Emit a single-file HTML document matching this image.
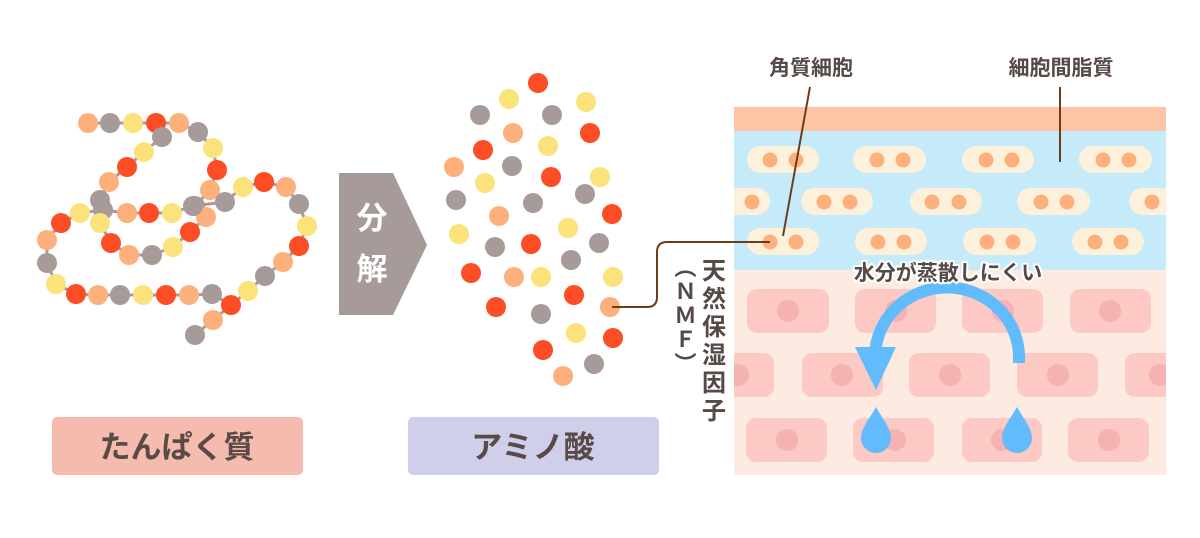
<!DOCTYPE html>
<html><head><meta charset="utf-8"><style>
html,body{margin:0;padding:0;background:#fff;}
svg{display:block;}
text{font-family:"Liberation Sans","Noto Sans CJK JP",sans-serif;}
</style></head><body>
<svg width="1200" height="538" viewBox="0 0 1200 538" xmlns="http://www.w3.org/2000/svg">
<rect width="1200" height="538" fill="#fff"/>
<g stroke="#a69b99" stroke-width="3" fill="none">
<polyline points="88,123 110,123 133,123 156,123 179,123 198,132 213,148 217,170 210,190 195,206 206,217 190,232 173,247 152,255 129,255 111,243 100,223 100,200"/>
<polyline points="156,123 162,137 144,152 127,167 109,182 100,200 103,210 80,213 61,223 47,240 47,263 56,284 76,294 98,295 120,295 143,295 166,295 189,295 212,294 231,305 213,320 195,335"/>
<polyline points="103,210 127,213 149,213 172,213 193,206 225,202 243,187 264,182 286,187 299,204 307,226 299,246 283,262 265,276 248,291 231,305"/>
</g>
<g>
<circle cx="88" cy="123" r="10" fill="#fdb07c"/><circle cx="110" cy="123" r="10" fill="#a69b99"/><circle cx="133" cy="123" r="10" fill="#fbe27a"/><circle cx="156" cy="123" r="10" fill="#fc4d24"/><circle cx="179" cy="123" r="10" fill="#fdb07c"/><circle cx="198" cy="132" r="10" fill="#a69b99"/><circle cx="213" cy="148" r="10" fill="#fbe27a"/><circle cx="217" cy="170" r="10" fill="#fc4d24"/><circle cx="210" cy="190" r="10" fill="#fdb07c"/><circle cx="195" cy="206" r="10" fill="#a69b99"/><circle cx="206" cy="217" r="10" fill="#fdb07c"/><circle cx="190" cy="232" r="10" fill="#fc4d24"/><circle cx="173" cy="247" r="10" fill="#fbe27a"/><circle cx="152" cy="255" r="10" fill="#a69b99"/><circle cx="129" cy="255" r="10" fill="#fdb07c"/><circle cx="111" cy="243" r="10" fill="#fc4d24"/>
<circle cx="162" cy="137" r="10" fill="#a69b99"/><circle cx="144" cy="152" r="10" fill="#fbe27a"/><circle cx="127" cy="167" r="10" fill="#fc4d24"/><circle cx="109" cy="182" r="10" fill="#fdb07c"/><circle cx="100" cy="200" r="10" fill="#a69b99"/><circle cx="103" cy="210" r="10" fill="#a69b99"/><circle cx="100" cy="223" r="10" fill="#fbe27a"/><circle cx="80" cy="213" r="10" fill="#fbe27a"/><circle cx="61" cy="223" r="10" fill="#fc4d24"/><circle cx="47" cy="240" r="10" fill="#fdb07c"/><circle cx="47" cy="263" r="10" fill="#a69b99"/><circle cx="56" cy="284" r="10" fill="#fbe27a"/><circle cx="76" cy="294" r="10" fill="#fc4d24"/><circle cx="98" cy="295" r="10" fill="#fdb07c"/><circle cx="120" cy="295" r="10" fill="#a69b99"/><circle cx="143" cy="295" r="10" fill="#fbe27a"/><circle cx="166" cy="295" r="10" fill="#fc4d24"/><circle cx="189" cy="295" r="10" fill="#fdb07c"/><circle cx="212" cy="294" r="10" fill="#a69b99"/><circle cx="231" cy="305" r="10" fill="#fc4d24"/><circle cx="213" cy="320" r="10" fill="#fdb07c"/><circle cx="195" cy="335" r="10" fill="#a69b99"/>
<circle cx="127" cy="213" r="10" fill="#fdb07c"/><circle cx="149" cy="213" r="10" fill="#fc4d24"/><circle cx="172" cy="213" r="10" fill="#fbe27a"/><circle cx="193" cy="206" r="10" fill="#a69b99"/><circle cx="225" cy="202" r="10" fill="#a69b99"/><circle cx="243" cy="187" r="10" fill="#fbe27a"/><circle cx="264" cy="182" r="10" fill="#fc4d24"/><circle cx="286" cy="187" r="10" fill="#fdb07c"/><circle cx="299" cy="204" r="10" fill="#a69b99"/><circle cx="307" cy="226" r="10" fill="#fbe27a"/><circle cx="299" cy="246" r="10" fill="#fc4d24"/><circle cx="283" cy="262" r="10" fill="#fdb07c"/><circle cx="265" cy="276" r="10" fill="#a69b99"/><circle cx="248" cy="291" r="10" fill="#fbe27a"/>
</g>
<polygon points="339,173 393,173 427,245 393,315 339,315" fill="#a69b99"/>
<text x="372" y="229" font-size="31" font-weight="bold" fill="#fff" text-anchor="middle">分</text>
<text x="372" y="280" font-size="31" font-weight="bold" fill="#fff" text-anchor="middle">解</text>
<g>
<circle cx="538" cy="83" r="10" fill="#fc4d24"/><circle cx="509" cy="99" r="10" fill="#fbe27a"/><circle cx="586" cy="102" r="10" fill="#fbe27a"/><circle cx="480" cy="115" r="10" fill="#a69b99"/><circle cx="552" cy="115" r="10" fill="#a69b99"/><circle cx="513" cy="133" r="10" fill="#fdb07c"/><circle cx="590" cy="133" r="10" fill="#fc4d24"/><circle cx="483" cy="150" r="10" fill="#fc4d24"/><circle cx="548" cy="146" r="10" fill="#fbe27a"/><circle cx="454" cy="167" r="10" fill="#fdb07c"/><circle cx="512" cy="166" r="10" fill="#a69b99"/><circle cx="551" cy="177" r="10" fill="#fc4d24"/><circle cx="600" cy="177" r="10" fill="#fbe27a"/><circle cx="485" cy="183" r="10" fill="#fbe27a"/><circle cx="456" cy="200" r="10" fill="#a69b99"/><circle cx="533" cy="203" r="10" fill="#a69b99"/><circle cx="585" cy="194" r="10" fill="#a69b99"/><circle cx="499" cy="216" r="10" fill="#fdb07c"/><circle cx="612" cy="214" r="10" fill="#fc4d24"/><circle cx="459" cy="234" r="10" fill="#fbe27a"/><circle cx="568" cy="228" r="10" fill="#fbe27a"/><circle cx="495" cy="247" r="10" fill="#a69b99"/><circle cx="531" cy="244" r="10" fill="#fc4d24"/><circle cx="599" cy="243" r="10" fill="#a69b99"/><circle cx="571" cy="260" r="10" fill="#a69b99"/><circle cx="471" cy="273" r="10" fill="#fc4d24"/><circle cx="514" cy="277" r="10" fill="#fdb07c"/><circle cx="541" cy="277" r="10" fill="#fbe27a"/><circle cx="613" cy="277" r="10" fill="#fbe27a"/><circle cx="574" cy="295" r="10" fill="#fc4d24"/><circle cx="496" cy="307" r="10" fill="#fc4d24"/><circle cx="541" cy="314" r="10" fill="#a69b99"/><circle cx="610" cy="307" r="10" fill="#fdb07c"/><circle cx="576" cy="333" r="10" fill="#fbe27a"/><circle cx="613" cy="338" r="10" fill="#fc4d24"/><circle cx="543" cy="350" r="10" fill="#fc4d24"/><circle cx="594" cy="364" r="10" fill="#a69b99"/><circle cx="563" cy="376" r="10" fill="#fdb07c"/>
</g>
<rect x="734" y="107" width="432" height="25" fill="#fdc4a6"/>
<rect x="734" y="131" width="432" height="140" fill="#c5ebfb"/>
<rect x="734" y="270" width="432" height="205" fill="#fdebe1"/>
<g fill="#fef1dc">
<rect x="747" y="146" width="72" height="27" rx="13.5"/><rect x="853" y="146" width="73" height="27" rx="13.5"/><rect x="962" y="146" width="72" height="27" rx="13.5"/><rect x="1079" y="146" width="73" height="27" rx="13.5"/>
<rect x="720" y="188" width="50" height="27" rx="13.5"/><rect x="801" y="188" width="72" height="27" rx="13.5"/><rect x="910" y="188" width="72" height="27" rx="13.5"/><rect x="1017" y="188" width="73" height="27" rx="13.5"/><rect x="1129" y="188" width="60" height="27" rx="13.5"/>
<rect x="747" y="228" width="72" height="27" rx="13.5"/><rect x="855" y="228" width="72" height="27" rx="13.5"/><rect x="963" y="228" width="73" height="27" rx="13.5"/><rect x="1072" y="228" width="72" height="27" rx="13.5"/>
</g>
<g fill="#fdb07c">
<circle cx="770" cy="160" r="7.5"/><circle cx="796" cy="160" r="7.5"/><circle cx="877" cy="160" r="7.5"/><circle cx="903" cy="160" r="7.5"/><circle cx="986" cy="160" r="7.5"/><circle cx="1012" cy="160" r="7.5"/><circle cx="1103" cy="160" r="7.5"/><circle cx="1129" cy="160" r="7.5"/>
<circle cx="752" cy="202" r="7.5"/><circle cx="824" cy="202" r="7.5"/><circle cx="850" cy="202" r="7.5"/><circle cx="932" cy="202" r="7.5"/><circle cx="959" cy="202" r="7.5"/><circle cx="1041" cy="202" r="7.5"/><circle cx="1067" cy="202" r="7.5"/><circle cx="1152" cy="202" r="7.5"/>
<circle cx="770" cy="242" r="7.5"/><circle cx="796" cy="242" r="7.5"/><circle cx="878" cy="242" r="7.5"/><circle cx="904" cy="242" r="7.5"/><circle cx="987" cy="242" r="7.5"/><circle cx="1013" cy="242" r="7.5"/><circle cx="1095" cy="242" r="7.5"/><circle cx="1121" cy="242" r="7.5"/>
</g>
<g fill="#fdc9c5">
<rect x="747" y="289" width="82" height="44" rx="10"/><rect x="855" y="289" width="81" height="44" rx="10"/><rect x="962" y="289" width="81" height="44" rx="10"/><rect x="1070" y="289" width="81" height="44" rx="10"/>
<rect x="720" y="353" width="54" height="44" rx="10"/><rect x="802" y="353" width="81" height="44" rx="10"/><rect x="909" y="353" width="81" height="44" rx="10"/><rect x="1017" y="353" width="81" height="44" rx="10"/><rect x="1125" y="353" width="60" height="44" rx="10"/>
<rect x="746" y="418" width="81" height="44" rx="10"/><rect x="853" y="418" width="81" height="44" rx="10"/><rect x="962" y="418" width="80" height="44" rx="10"/><rect x="1068" y="418" width="81" height="44" rx="10"/>
</g>
<g fill="#f6b1b3">
<circle cx="788" cy="311" r="11"/><circle cx="896" cy="311" r="11"/><circle cx="1003" cy="311" r="11"/><circle cx="1110" cy="311" r="11"/>
<circle cx="738" cy="375" r="11"/><circle cx="842" cy="375" r="11"/><circle cx="950" cy="375" r="11"/><circle cx="1058" cy="375" r="11"/><circle cx="1160" cy="375" r="11"/>
<circle cx="787" cy="440" r="11"/><circle cx="895" cy="440" r="11"/><circle cx="1002" cy="440" r="11"/><circle cx="1109" cy="440" r="11"/>
</g>
<rect x="700" y="180" width="34" height="300" fill="#fff"/>
<rect x="1166" y="180" width="34" height="300" fill="#fff"/>
<path d="M1019,363 L1019,360 A72,70 0 0 0 875,355 L875,350" fill="none" stroke="#62bbfd" stroke-width="12"/>
<polygon points="855,347 896,347 876,390" fill="#62bbfd"/>
<path d="M876,407 C870,418 861,428 861,438 A15,15 0 0 0 891,438 C891,428 882,418 876,407Z" fill="#62bbfd"/>
<path d="M1017,407 C1011,418 1002,428 1002,438 A15,15 0 0 0 1032,438 C1032,428 1023,418 1017,407Z" fill="#62bbfd"/>
<text x="948" y="280" font-size="21" font-weight="bold" fill="#554a47" text-anchor="middle" stroke="#fff" stroke-width="4" paint-order="stroke" stroke-linejoin="round">水分が蒸散しにくい</text>
<text x="811" y="75" font-size="21" font-weight="bold" fill="#554a47" text-anchor="middle">角質細胞</text>
<text x="1061" y="75" font-size="21" font-weight="bold" fill="#554a47" text-anchor="middle">細胞間脂質</text>
<line x1="810" y1="87" x2="783" y2="236" stroke="#6b3d1a" stroke-width="2"/>
<line x1="1060" y1="87" x2="1060" y2="162" stroke="#6b3d1a" stroke-width="2"/>
<path d="M612,307 L647,307 Q657,307 657,297 L657,252 Q657,242 667,242 L770,242" fill="none" stroke="#6b3d1a" stroke-width="2"/>
<text x="711" y="258" font-size="24" font-weight="bold" fill="#554a47" style="writing-mode:vertical-rl;letter-spacing:4px">天然保湿因子</text>
<text x="684" y="256" font-size="22" font-weight="bold" fill="#554a47" style="writing-mode:vertical-rl;letter-spacing:2px">（ＮＭＦ）</text>
<rect x="52" y="417" width="251" height="58" rx="5" fill="#f5bbae"/>
<text x="177" y="458" font-size="31" font-weight="bold" fill="#5a4a45" text-anchor="middle">たんぱく質</text>
<rect x="408" y="417" width="251" height="58" rx="5" fill="#cfcfeb"/>
<text x="533" y="458" font-size="31" font-weight="bold" fill="#5a4a45" text-anchor="middle">アミノ酸</text>
</svg>
</body></html>
